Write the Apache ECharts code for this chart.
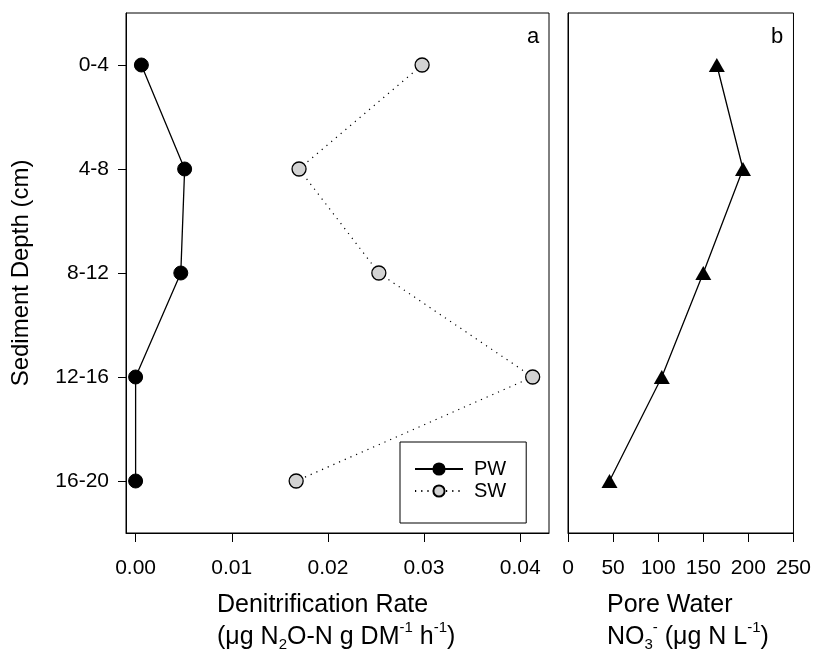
<!DOCTYPE html>
<html>
<head>
<meta charset="utf-8">
<script src="https://cdn.jsdelivr.net/npm/echarts@6/dist/echarts.min.js"></script>
<style>html,body{margin:0;padding:0;background:#fff;}#c{width:814px;height:651px;}</style>
</head>
<body>
<div id="c"></div>
<script>
const depths = ['0-4', '4-8', '8-12', '12-16', '16-20'];
const pwRate = [0.0006, 0.0051, 0.0047, 0.0000, 0.0000];
const swRate = [0.0298, 0.0170, 0.0253, 0.0413, 0.0167];
const poreNO3 = [165, 194, 150, 104, 46];
const rateTicks = [0, 0.01, 0.02, 0.03, 0.04];
const no3Ticks = [0, 50, 100, 150, 200, 250];

const FONT = 'Liberation Sans, Arial, sans-serif';
const tickFont = 21;
const titleFont = 25;

const chart = echarts.init(document.getElementById('c'), null, {renderer: 'canvas'});

const titleRich = {
  t: {fontSize: titleFont, fontFamily: FONT, color: '#000', lineHeight: 32, verticalAlign: 'middle'},
  sub: {fontSize: 15, fontFamily: FONT, color: '#000', lineHeight: 32, verticalAlign: 'middle', padding: [14, 0, 0, 0]},
  sup: {fontSize: 15, fontFamily: FONT, color: '#000', lineHeight: 32, verticalAlign: 'middle', padding: [0, 0, 20, 0]}
};

chart.setOption({
  animation: false,
  backgroundColor: '#fff',
  textStyle: {fontFamily: FONT},
  grid: [
    {left: 126, top: 13, width: 423, bottom: 118, show: true, borderColor: '#000', borderWidth: 1},
    {left: 568, top: 13, width: 227, bottom: 118, show: true, borderColor: '#000', borderWidth: 1}
  ],
  xAxis: [
    {
      gridIndex: 0, type: 'value', min: -0.001, max: 0.043,
      axisLine: {show: true, onZero: false, lineStyle: {color: '#000', width: 1}},
      axisTick: {show: true, customValues: rateTicks, length: 9, lineStyle: {color: '#000'}},
      axisLabel: {customValues: rateTicks, formatter: v => v.toFixed(2), fontSize: tickFont, color: '#000', margin: 25, fontFamily: FONT},
      splitLine: {show: false}
    },
    {
      gridIndex: 1, type: 'value', min: 0, max: 250, interval: 50,
      axisLine: {show: true, onZero: false, lineStyle: {color: '#000', width: 1}},
      axisTick: {show: true, length: 9, lineStyle: {color: '#000'}},
      axisLabel: {fontSize: tickFont, color: '#000', margin: 25, fontFamily: FONT, showMaxLabel: true, showMinLabel: true},
      splitLine: {show: false}
    }
  ],
  yAxis: [
    {
      gridIndex: 0, type: 'category', data: depths, inverse: true, boundaryGap: true,
      axisLine: {show: true, onZero: false, lineStyle: {color: '#000', width: 1}},
      axisTick: {show: true, alignWithLabel: true, length: 8, lineStyle: {color: '#000'}},
      axisLabel: {fontSize: tickFont, color: '#000', margin: 17, fontFamily: FONT},
      name: 'Sediment Depth (cm)', nameLocation: 'middle', nameGap: 93,
      nameTextStyle: {fontSize: 24, color: '#000', fontFamily: FONT}
    },
    {
      gridIndex: 1, type: 'category', data: depths, inverse: true, boundaryGap: true,
      axisLine: {show: true, onZero: false, lineStyle: {color: '#000', width: 1}},
      axisTick: {show: false}, axisLabel: {show: false}
    }
  ],
  legend: {
    left: 400, top: 442, orient: 'vertical',
    data: ['PW', 'SW'],
    itemWidth: 48, itemHeight: 14, itemGap: 2,
    padding: [17, 20, 22, 14],
    borderColor: '#000', borderWidth: 1,
    textStyle: {fontSize: 20, color: '#000', fontFamily: FONT, padding: [0, 0, 0, 6]}
  },
  series: [
    {
      name: 'PW', type: 'line', xAxisIndex: 0, yAxisIndex: 0,
      data: pwRate.map((v, i) => [v, depths[i]]),
      symbol: 'circle', symbolSize: 14,
      itemStyle: {color: '#000', borderColor: '#000', borderWidth: 1},
      lineStyle: {color: '#000', width: 1.3}
    },
    {
      name: 'SW', type: 'line', xAxisIndex: 0, yAxisIndex: 0,
      data: swRate.map((v, i) => [v, depths[i]]),
      symbol: 'circle', symbolSize: 14,
      itemStyle: {color: '#d3d3d3', borderColor: '#000', borderWidth: 1.3},
      lineStyle: {color: '#000', width: 1.2, type: [1.2, 5]}
    },
    {
      name: 'NO3', type: 'line', xAxisIndex: 1, yAxisIndex: 1,
      data: poreNO3.map((v, i) => [v, depths[i]]),
      symbol: 'triangle', symbolSize: [16, 14],
      itemStyle: {color: '#000'},
      lineStyle: {color: '#000', width: 1.3}
    }
  ],
  graphic: [
    {type: 'text', left: 527, top: 26, style: {text: 'a', fontSize: 22, fontFamily: FONT, fill: '#000'}},
    {type: 'text', left: 771, top: 26, style: {text: 'b', fontSize: 22, fontFamily: FONT, fill: '#000'}},
    {type: 'text', left: 217, top: 593, style: {
      text: '{t|Denitrification Rate}\n{t|(μg N}{sub|2}{t|O-N g DM}{sup|-1}{t| h}{sup|-1}{t|)}',
      rich: titleRich, fill: '#000'}},
    {type: 'text', left: 607, top: 593, style: {
      text: '{t|Pore Water}\n{t|NO}{sub|3}{sup|-}{t| (μg N L}{sup|-1}{t|)}',
      rich: titleRich, fill: '#000'}}
  ]
});
</script>
</body>
</html>
